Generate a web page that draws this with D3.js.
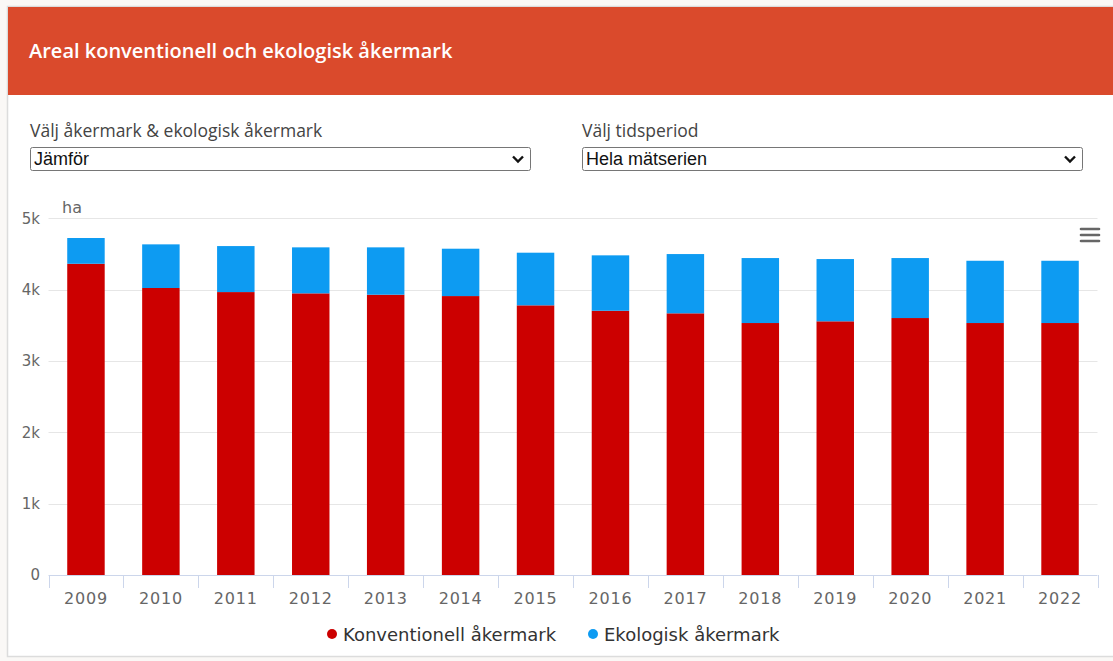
<!DOCTYPE html>
<html lang="sv">
<head>
<meta charset="utf-8">
<title>Areal konventionell och ekologisk åkermark</title>
<script src="https://cdn.jsdelivr.net/npm/d3@7"></script>
<style>
  html, body { margin: 0; padding: 0; background: #fff; }
  svg { display: block; }
</style>
</head>
<body>
<svg id="chart" width="1113" height="661"></svg>
<script>
// Years and areas (ha) per land type
const years = ["2009","2010","2011","2012","2013","2014","2015","2016","2017","2018","2019","2020","2021","2022"];
const konventionell = [4364, 4024, 3967, 3949, 3930, 3911, 3781, 3705, 3669, 3533, 3557, 3603, 3533, 3533];
const ekologisk = [361, 612, 645, 645, 664, 664, 738, 777, 831, 911, 873, 841, 873, 873];
const yTicks = [0, 1000, 2000, 3000, 4000, 5000];
const seriesNames = ["Konventionell åkermark", "Ekologisk åkermark"];
const seriesColors = ["#cc0000", "#0d9bf2"];

const svg = d3.select("#chart");
const W = 1113, H = 661;

// Card frame
svg.append("rect").attr("x", 0).attr("y", 0).attr("width", W).attr("height", H).attr("fill", "#faf8f6");
svg.append("rect").attr("x", 7.5).attr("y", 6.5).attr("width", W).attr("height", 650)
  .attr("fill", "#fff").attr("stroke", "#dcdcdc").attr("stroke-width", 1.5);

// Header band
svg.append("rect").attr("x", 8).attr("y", 7).attr("width", W).attr("height", 88).attr("fill", "#da4a2c");
svg.append("text").attr("x", 29).attr("y", 58)
  .attr("font-family", "'Open Sans', sans-serif").attr("font-weight", 600).attr("font-size", 20)
  .attr("fill", "#fff").text("Areal konventionell och ekologisk åkermark");

// Dropdown controls
function dropdown(x, w, label, value) {
  const g = svg.append("g");
  g.append("text").attr("x", x).attr("y", 137)
    .attr("font-family", "'Open Sans', sans-serif").attr("font-size", 17.5).attr("fill", "#444").text(label);
  g.append("rect").attr("x", x + 0.5).attr("y", 147.5).attr("width", w).attr("height", 23).attr("rx", 2)
    .attr("fill", "#fff").attr("stroke", "#767676");
  g.append("text").attr("x", x + 4).attr("y", 165)
    .attr("font-family", "'Liberation Sans', Arial, sans-serif").attr("font-size", 18).attr("fill", "#111").text(value);
  const cx = x + w - 12, cy = 159;
  g.append("path").attr("d", `M${cx - 5},${cy - 2.5} L${cx},${cy + 2.5} L${cx + 5},${cy - 2.5}`)
    .attr("fill", "none").attr("stroke", "#111").attr("stroke-width", 2.4);
}
dropdown(30, 500, "Välj åkermark & ekologisk åkermark", "Jämför");
dropdown(582, 500, "Välj tidsperiod", "Hela mätserien");

// Chart geometry
const plot = { left: 48.5, right: 1097.5, top: 218.4, bottom: 575 };
const x = d3.scaleBand().domain(years).range([plot.left, plot.right]).padding(0);
const y = d3.scaleLinear().domain([0, 5000]).range([plot.bottom, plot.top]);
const barW = x.bandwidth() * 0.5;

// Horizontal gridlines
svg.append("g").selectAll("line").data(yTicks.filter(d => d > 0)).join("line")
  .attr("x1", plot.left).attr("x2", plot.right)
  .attr("y1", d => Math.round(y(d)) + 0.5).attr("y2", d => Math.round(y(d)) + 0.5)
  .attr("stroke", "#e6e6e6");

// Y axis labels
const yAxis = d3.axisLeft(y).tickValues(yTicks).tickSize(0).tickPadding(0)
  .tickFormat(d => d === 0 ? "0" : (d / 1000) + "k");
const yg = svg.append("g").attr("transform", `translate(40,0)`).call(yAxis);
yg.select(".domain").remove();
yg.selectAll("text").attr("font-family", "'DejaVu Sans', sans-serif").attr("font-size", 15)
  .attr("fill", "#666").attr("dy", "0.32em");

svg.append("text").attr("x", 62).attr("y", 213)
  .attr("font-family", "'DejaVu Sans', sans-serif").attr("font-size", 16).attr("fill", "#666").text("ha");

// Stacked bars
const rows = years.map((yr, i) => ({ year: yr, Konventionell: konventionell[i], Ekologisk: ekologisk[i] }));
const stack = d3.stack().keys(["Konventionell", "Ekologisk"])(rows);
svg.append("g").selectAll("g").data(stack).join("g")
  .attr("fill", (d, i) => seriesColors[i])
  .selectAll("rect").data(d => d).join("rect")
  .attr("x", d => x(d.data.year) + (x.bandwidth() - barW) / 2)
  .attr("width", barW)
  .attr("y", d => y(d[1]))
  .attr("height", d => y(d[0]) - y(d[1]));

// X axis
const xAxis = d3.axisBottom(x).tickSize(0).tickPadding(0);
const xg = svg.append("g").attr("transform", `translate(0,${plot.bottom})`).call(xAxis);
xg.select(".domain").remove();
xg.selectAll("text").attr("font-family", "'DejaVu Sans', sans-serif").attr("font-size", 16)
  .attr("letter-spacing", 0.8).attr("fill", "#666").attr("dy", "1.8em");
svg.append("line").attr("x1", plot.left).attr("x2", plot.right)
  .attr("y1", plot.bottom + 0.5).attr("y2", plot.bottom + 0.5).attr("stroke", "#ccd6eb");
const bounds = years.map(d => x(d)).concat([plot.right]);
svg.append("g").selectAll("line").data(bounds).join("line")
  .attr("x1", d => Math.round(d) + 0.5).attr("x2", d => Math.round(d) + 0.5)
  .attr("y1", plot.bottom).attr("y2", plot.bottom + 13).attr("stroke", "#ccd6eb");

// Context menu icon
const menu = svg.append("g").attr("stroke", "#666").attr("stroke-width", 2.6).attr("stroke-linecap", "round");
[229, 235, 241].forEach(yy => menu.append("line").attr("x1", 1081).attr("x2", 1099).attr("y1", yy).attr("y2", yy));

// Legend
const legend = svg.append("g").attr("font-family", "'DejaVu Sans', sans-serif").attr("font-size", 18).attr("fill", "#333");
const legendX = [332, 593];
seriesNames.forEach((name, i) => {
  legend.append("circle").attr("cx", legendX[i]).attr("cy", 634).attr("r", 5).attr("fill", seriesColors[i]);
  legend.append("text").attr("x", legendX[i] + 11).attr("y", 641).text(name);
});
</script>
</body>
</html>
